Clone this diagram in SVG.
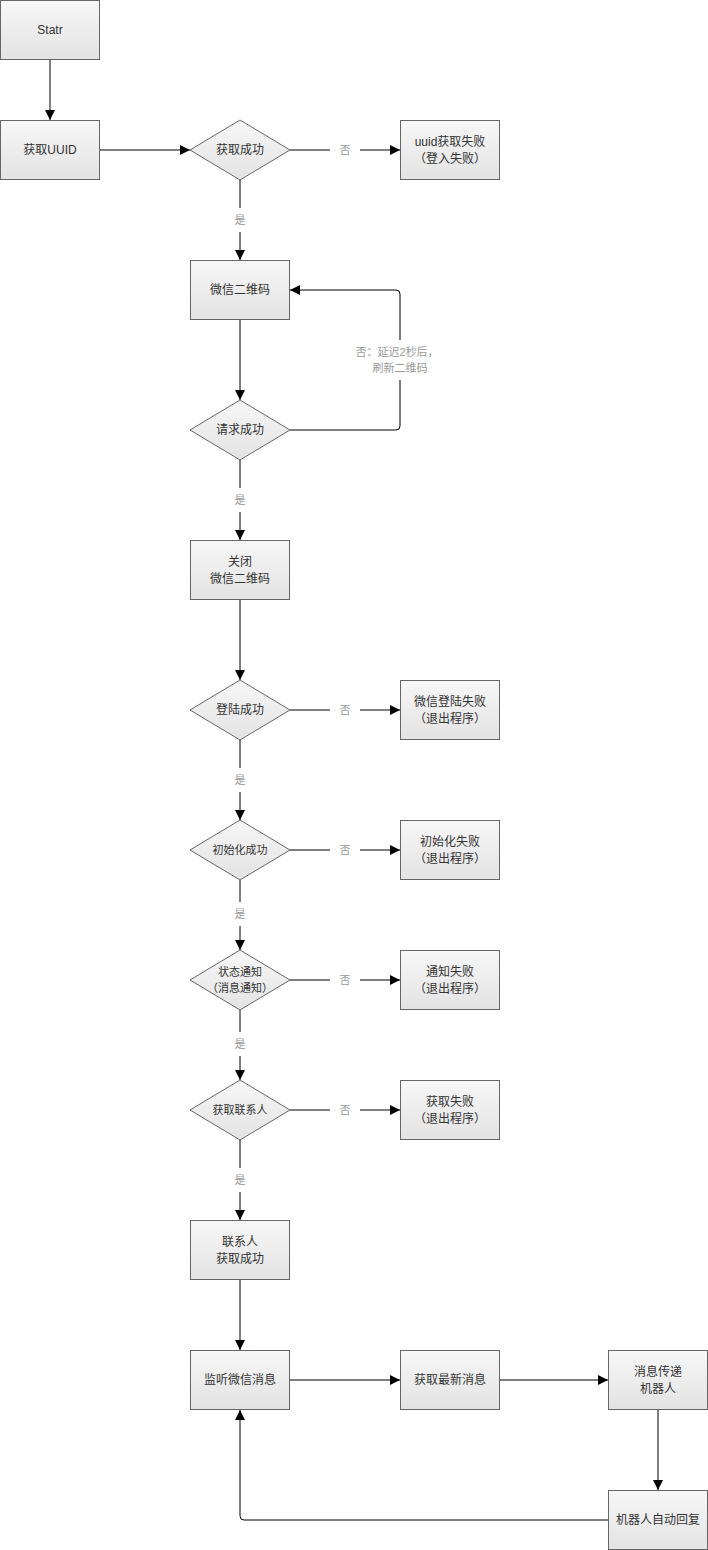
<svg xmlns="http://www.w3.org/2000/svg" width="708" height="1550" viewBox="0 0 708 1550">
<defs>
<linearGradient id="g" x1="0" y1="0" x2="0" y2="1">
<stop offset="0" stop-color="#f7f7f7"/>
<stop offset="1" stop-color="#e3e3e3"/>
</linearGradient>
<marker id="arr" viewBox="0 0 10 10" refX="10" refY="5" markerWidth="10" markerHeight="10" markerUnits="userSpaceOnUse" orient="auto">
<path d="M0,0 L10,5 L0,10 Z" fill="#000"/>
</marker>
<style>
.n{fill:url(#g);stroke:#666;stroke-width:1}
.t{font-family:"Liberation Sans","Noto Sans CJK SC",sans-serif;font-size:12px;fill:#333;text-anchor:middle;dominant-baseline:central}
.s{font-size:11px}
.l{font-family:"Liberation Sans","Noto Sans CJK SC",sans-serif;font-size:11px;fill:#999;text-anchor:middle;dominant-baseline:central}
.c{fill:none;stroke:#000;stroke-width:1}
</style>
</defs>
<rect width="708" height="1550" fill="#fff"/>
<g id="connectors">
<path class="c" d="M50,60 V120" marker-end="url(#arr)"/>
<path class="c" d="M100,150 H190" marker-end="url(#arr)"/>
<path class="c" d="M290,150 H400" marker-end="url(#arr)"/>
<path class="c" d="M240,180 V260" marker-end="url(#arr)"/>
<path class="c" d="M240,320 V400" marker-end="url(#arr)"/>
<path class="c" d="M290,430 H396 Q400,430 400,426 V294 Q400,290 396,290 H290" marker-end="url(#arr)"/>
<path class="c" d="M240,460 V540" marker-end="url(#arr)"/>
<path class="c" d="M240,600 V680" marker-end="url(#arr)"/>
<path class="c" d="M290,710 H400" marker-end="url(#arr)"/>
<path class="c" d="M240,740 V820" marker-end="url(#arr)"/>
<path class="c" d="M290,850 H400" marker-end="url(#arr)"/>
<path class="c" d="M240,880 V950" marker-end="url(#arr)"/>
<path class="c" d="M290,980 H400" marker-end="url(#arr)"/>
<path class="c" d="M240,1010 V1080" marker-end="url(#arr)"/>
<path class="c" d="M290,1110 H400" marker-end="url(#arr)"/>
<path class="c" d="M240,1140 V1220" marker-end="url(#arr)"/>
<path class="c" d="M240,1280 V1350" marker-end="url(#arr)"/>
<path class="c" d="M290,1380 H400" marker-end="url(#arr)"/>
<path class="c" d="M500,1380 H608" marker-end="url(#arr)"/>
<path class="c" d="M658,1410 V1490" marker-end="url(#arr)"/>
<path class="c" d="M608,1520 H244 Q240,1520 240,1516 V1410" marker-end="url(#arr)"/>
<rect x="230" y="208" width="20" height="24" fill="#fff"/>
<text class="l" x="240" y="220">是</text>
<rect x="230" y="488" width="20" height="24" fill="#fff"/>
<text class="l" x="240" y="500">是</text>
<rect x="230" y="768" width="20" height="24" fill="#fff"/>
<text class="l" x="240" y="780">是</text>
<rect x="230" y="902" width="20" height="24" fill="#fff"/>
<text class="l" x="240" y="914">是</text>
<rect x="230" y="1032" width="20" height="24" fill="#fff"/>
<text class="l" x="240" y="1044">是</text>
<rect x="230" y="1168" width="20" height="24" fill="#fff"/>
<text class="l" x="240" y="1180">是</text>
<rect x="330" y="140" width="30" height="20" fill="#fff"/>
<text class="l" x="345" y="150">否</text>
<rect x="330" y="700" width="30" height="20" fill="#fff"/>
<text class="l" x="345" y="710">否</text>
<rect x="330" y="840" width="30" height="20" fill="#fff"/>
<text class="l" x="345" y="850">否</text>
<rect x="330" y="970" width="30" height="20" fill="#fff"/>
<text class="l" x="345" y="980">否</text>
<rect x="330" y="1100" width="30" height="20" fill="#fff"/>
<text class="l" x="345" y="1110">否</text>
<rect x="352" y="340" width="90" height="40" fill="#fff"/>
<text class="l" x="397" y="352">否：延迟2秒后，</text>
<text class="l" x="400" y="368">刷新二维码</text>
</g>
<g id="start"><rect class="n" x="0.5" y="0.5" width="99" height="59"/><text class="t" x="50" y="30">Statr</text></g>
<g id="getuuid"><rect class="n" x="0.5" y="120.5" width="99" height="59"/><text class="t" x="50" y="150">获取UUID</text></g>
<g id="d1"><path class="n" d="M240,120 L290,150 L240,180 L190,150 Z"/><text class="t" x="240" y="150">获取成功</text></g>
<g id="uuidfail"><rect class="n" x="400.5" y="120.5" width="99" height="59"/><text class="t" x="450" y="142">uuid获取失败</text><text class="t" x="450" y="159">（登入失败）</text></g>
<g id="qr"><rect class="n" x="190.5" y="260.5" width="99" height="59"/><text class="t" x="240" y="290">微信二维码</text></g>
<g id="d2"><path class="n" d="M240,400 L290,430 L240,460 L190,430 Z"/><text class="t" x="240" y="430">请求成功</text></g>
<g id="closeqr"><rect class="n" x="190.5" y="540.5" width="99" height="59"/><text class="t" x="240" y="562">关闭</text><text class="t" x="240" y="579">微信二维码</text></g>
<g id="d3"><path class="n" d="M240,680 L290,710 L240,740 L190,710 Z"/><text class="t" x="240" y="710">登陆成功</text></g>
<g id="loginfail"><rect class="n" x="400.5" y="680.5" width="99" height="59"/><text class="t" x="450" y="702">微信登陆失败</text><text class="t" x="450" y="719">（退出程序）</text></g>
<g id="d4"><path class="n" d="M240,820 L290,850 L240,880 L190,850 Z"/><text class="t s" x="240" y="850">初始化成功</text></g>
<g id="initfail"><rect class="n" x="400.5" y="820.5" width="99" height="59"/><text class="t" x="450" y="842">初始化失败</text><text class="t" x="450" y="859">（退出程序）</text></g>
<g id="d5"><path class="n" d="M240,950 L290,980 L240,1010 L190,980 Z"/><text class="t s" x="240" y="972">状态通知</text><text class="t s" x="240" y="988">（消息通知）</text></g>
<g id="notifyfail"><rect class="n" x="400.5" y="950.5" width="99" height="59"/><text class="t" x="450" y="972">通知失败</text><text class="t" x="450" y="989">（退出程序）</text></g>
<g id="d6"><path class="n" d="M240,1080 L290,1110 L240,1140 L190,1110 Z"/><text class="t s" x="240" y="1110">获取联系人</text></g>
<g id="contactfail"><rect class="n" x="400.5" y="1080.5" width="99" height="59"/><text class="t" x="450" y="1102">获取失败</text><text class="t" x="450" y="1119">（退出程序）</text></g>
<g id="contactok"><rect class="n" x="190.5" y="1220.5" width="99" height="59"/><text class="t" x="240" y="1242">联系人</text><text class="t" x="240" y="1259">获取成功</text></g>
<g id="listen"><rect class="n" x="190.5" y="1350.5" width="99" height="59"/><text class="t" x="240" y="1380">监听微信消息</text></g>
<g id="latest"><rect class="n" x="400.5" y="1350.5" width="99" height="59"/><text class="t" x="450" y="1380">获取最新消息</text></g>
<g id="pass"><rect class="n" x="608.5" y="1350.5" width="99" height="59"/><text class="t" x="658" y="1372">消息传递</text><text class="t" x="658" y="1389">机器人</text></g>
<g id="reply"><rect class="n" x="608.5" y="1490.5" width="99" height="59"/><text class="t" x="658" y="1520">机器人自动回复</text></g>
</svg>
